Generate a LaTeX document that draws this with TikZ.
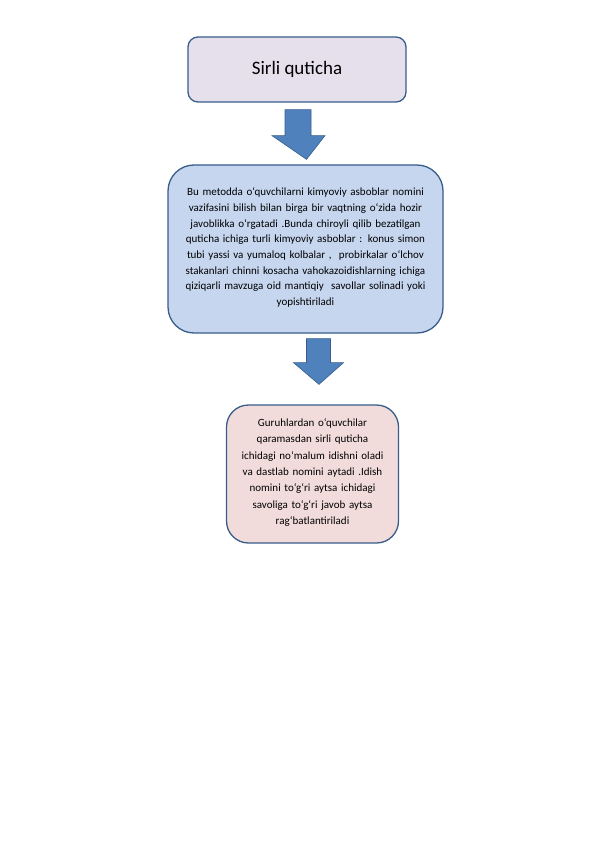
\documentclass[tikz,border=0pt]{standalone}
\usepackage{fontspec}
\setmainfont{Carlito}
\usetikzlibrary{positioning,calc}
\definecolor{rimblue}{HTML}{385D8A}
\definecolor{arrowblue}{HTML}{4F81BD}
\definecolor{titlefill}{HTML}{E6E0EC}
\definecolor{methodfill}{HTML}{C6D6EF}
\definecolor{groupfill}{HTML}{F2DCDB}
\tikzset{
  stagebox/.style={draw=rimblue,line width=1.3pt,align=center,inner sep=0pt},
  blockarrow/.style={fill=arrowblue,draw=rimblue,line width=0.6pt,line join=miter}
}
\begin{document}
\begin{tikzpicture}[x=1pt,y=-1pt]
          \useasboundingbox (0,0) rectangle (596,842);
          \node[stagebox,fill=titlefill,rounded corners=10pt,minimum width=218pt,minimum height=65pt,font=\fontsize{19}{23}\selectfont] (title) at (297,69.5) {Sirli quticha};

          \node[stagebox,fill=methodfill,rounded corners=26pt,minimum width=275pt,minimum height=168pt,text width=265pt,font=\fontsize{11}{15.7}\selectfont] (method) at (305.5,249) {Bu metodda o‘quvchilarni kimyoviy asboblar nomini\\ vazifasini bilish bilan birga bir vaqtning o‘zida hozir\\ javoblikka o‘rgatadi .Bunda chiroyli qilib bezatilgan\\ quticha ichiga turli kimyoviy asboblar : konus simon\\ tubi yassi va yumaloq kolbalar ,\ \ probirkalar o‘lchov\\ stakanlari chinni kosacha vahokazoidishlarning ichiga\\ qiziqarli mavzuga oid mantiqiy\ \ savollar solinadi yoki\\ yopishtiriladi\strut};

          \node[stagebox,fill=groupfill,rounded corners=22pt,minimum width=172pt,minimum height=138pt,text width=165pt,font=\fontsize{11}{16.3}\selectfont] (group) at (312.5,474) {Guruhlardan o‘quvchilar\\ qaramasdan sirli quticha\\ ichidagi no‘malum idishni oladi\\ va dastlab nomini aytadi .Idish\\ nomini to‘g‘ri aytsa ichidagi\\ savoliga to‘g‘ri javob aytsa\\ rag‘batlantiriladi\strut};

          \filldraw[blockarrow] ($(title.south)+(-12,7)$) -- ($(title.south)+(14,7)$) -- ($(title.south)+(14,33)$) -- ($(title.south)+(28,33)$) -- ($(method.north)+(1,-5)$) -- ($(title.south)+(-25,33)$) -- ($(title.south)+(-12,33)$) -- cycle;
          \filldraw[blockarrow] ($(method.south)+(1,5)$) -- ($(method.south)+(25,5)$) -- ($(method.south)+(25,29)$) -- ($(method.south)+(38,29)$) -- ($(group.north)+(6.5,-20)$) -- ($(method.south)+(-12,29)$) -- ($(method.south)+(1,29)$) -- cycle;
        \end{tikzpicture}
\end{document}
